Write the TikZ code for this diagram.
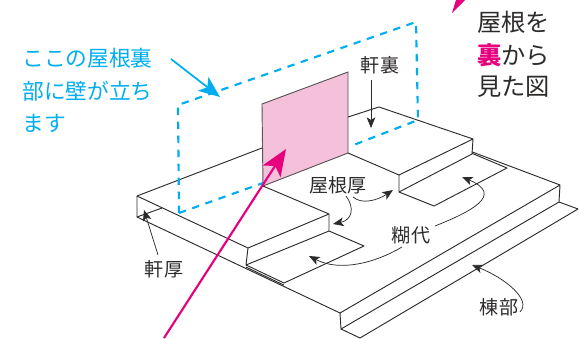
\documentclass[tikz,border=0pt]{standalone}
\usepackage{fontspec}
\setmainfont{Noto Sans CJK JP}
\usetikzlibrary{arrows.meta}
\definecolor{roofpink}{RGB}{245,192,218}
\definecolor{markpink}{RGB}{230,0,126}
\definecolor{markblue}{RGB}{0,174,239}
\definecolor{inkgray}{RGB}{45,42,42}
\tikzset{
  roofline/.style={draw=inkgray,line width=0.7pt,line join=round},
  leader/.style={draw=inkgray,line width=0.55pt,-{Stealth[length=8pt,width=6.5pt,inset=2pt]}},
  bluedash/.style={draw=markblue,line width=1.6pt,dash pattern=on 5.5pt off 5pt},
  notelabel/.style={font=\fontsize{14.3pt}{14.3pt}\selectfont,text=inkgray,inner sep=0pt},
  bluelabel/.style={font=\fontsize{16.3pt}{16.3pt}\selectfont,text=markblue,inner sep=0pt,anchor=west},
  sidelabel/.style={font=\fontsize{18.2pt}{18.2pt}\selectfont,text=inkgray,inner sep=0pt,anchor=west}
}
\begin{document}
\begin{tikzpicture}[x=0.75pt,y=-0.75pt]
\useasboundingbox (0,0) rectangle (579,339);
% Roof points
\coordinate (eaveTop) at (137,196);
\coordinate (eaveLow) at (137,217);
\coordinate (eaveIn) at (162,208);
\coordinate (wallA) at (262,104);
\coordinate (wallB) at (348,72);
\coordinate (wallC) at (348,153);
\coordinate (wallD) at (263,186);
\coordinate (wallE) at (262,148);
\coordinate (wallF) at (348,117);
\coordinate (backTop) at (379,107);
\coordinate (stepA) at (248,248);
\coordinate (stepB) at (329,214);
\coordinate (stepC) at (329,231);
\coordinate (stepD) at (246,265);
\coordinate (tabA) at (364,246);
\coordinate (tabB) at (284,283);
\coordinate (stepE) at (399,175);
\coordinate (stepF) at (473,139);
\coordinate (stepG) at (472,154);
\coordinate (stepH) at (399,192);
\coordinate (tabC) at (434,206);
\coordinate (tabD) at (507,168);
\coordinate (ridgeA) at (340,313);
\coordinate (ridgeB) at (560,185);
\coordinate (ridgeC) at (559,202);
\coordinate (ridgeD) at (341,329);
\coordinate (ridgeE) at (578,209);
\coordinate (ridgeF) at (360,338);
% Wall
\filldraw[fill=roofpink,draw=inkgray!80,line width=0.7pt] (wallA) -- (wallB) -- (wallC) -- (wallD) -- cycle;
% Roof
\draw[roofline] (wallE) -- (eaveTop) -- (stepA) -- (stepB) -- (wallD);
\draw[roofline] (eaveTop) -- (eaveLow) -- (ridgeA) -- (ridgeB) -- (ridgeC) -- (ridgeD) -- (ridgeA);
\draw[roofline] (eaveLow) -- (eaveIn);
\draw[roofline] (stepA) -- (stepD) -- (stepC) -- (stepB);
\draw[roofline] (stepC) -- (tabA) -- (tabB) -- (stepD);
\draw[roofline] ([yshift=-1.6pt]stepD) -- ([yshift=-1.6pt]tabB);
\draw[roofline] (wallC) -- (stepE) -- (stepF) -- (stepG) -- (stepH) -- (stepE);
\draw[roofline] (stepH) -- (tabC) -- (tabD) -- ([yshift=0.5pt]stepG);
\draw[roofline] ([yshift=1.6pt]stepG) -- (ridgeB);
\draw[roofline] (wallF) -- (backTop) -- (stepF);
\draw[roofline] (ridgeC) -- (ridgeE) -- (ridgeF) -- (ridgeD);
% Dashed plane
\coordinate (dashA) at (178,105);
\coordinate (dashB) at (416,22);
\coordinate (dashC) at (418,120);
\coordinate (dashD) at (179,213);
\coordinate (dashE) at (263,183);
\coordinate (dashF) at (351,146);
\draw[bluedash] (dashD) -- (dashA) -- (dashB) -- (dashC) -- (dashF);
\draw[bluedash] (dashD) -- (dashE);
% Labels
\node[notelabel] (eaveBack) at (380,65) {軒裏};
\node[notelabel] (eaveThick) at (164,269) {軒厚};
\node[notelabel] (roofThick) at (338,185) {屋根厚};
\node[notelabel] (glueTab) at (411,235) {糊代};
\node[notelabel] (ridgePart) at (499,307) {棟部};
\node[bluelabel] (noteA) at (22,58) {ここの屋根裏};
\node[bluelabel] (noteB) at (22,91) {部に壁が立ち};
\node[bluelabel] (noteC) at (22,123) {ます};
\node[sidelabel] (sideA) at (477,22) {屋根を};
\node[sidelabel] (sideB) at (477,55) {{\bfseries\color{markpink}裏}から};
\node[sidelabel] (sideC) at (477,87) {見た図};
% Leaders
\coordinate (backEnd) at (371,128);
\coordinate (thickEnd) at (144,210);
\coordinate (stepEndL) at (333,224);
\coordinate (stepEndR) at (393,190);
\coordinate (tabEndL) at (309,256);
\coordinate (tabEndR) at (462,177);
\coordinate (ridgeEnd) at (472,265);
\draw[leader] (371,80) -- (backEnd);
\draw[leader] (158,255) -- (thickEnd);
\draw[leader] (346,196) .. controls (355,208) and (352,220) .. (stepEndL);
\draw[leader] (353,197) .. controls (362,205) and (378,200) .. (stepEndR);
\draw[leader] (435,226) .. controls (470,212) and (505,195) .. (tabEndR);
\draw[leader] (402,247) .. controls (375,263) and (340,272) .. (tabEndL);
\draw[leader] (520,312) .. controls (532,300) and (505,278) .. (ridgeEnd);
% Arrows
\draw[draw=markblue,line width=1.3pt,-{Stealth[length=16pt,width=13pt,inset=4pt]}] (171,59) -- (220,97);
\draw[draw=markpink,line width=1.6pt,-{Stealth[length=20pt,width=16pt,inset=5pt]}] (164,338) -- (286,149);
\coordinate (topTipA) at (452,13);
\coordinate (topTipB) at (456,0);
\coordinate (topTipC) at (465,0);
\fill[markpink] (topTipA) -- (topTipB) -- (topTipC) -- cycle;
\end{tikzpicture}
\end{document}
